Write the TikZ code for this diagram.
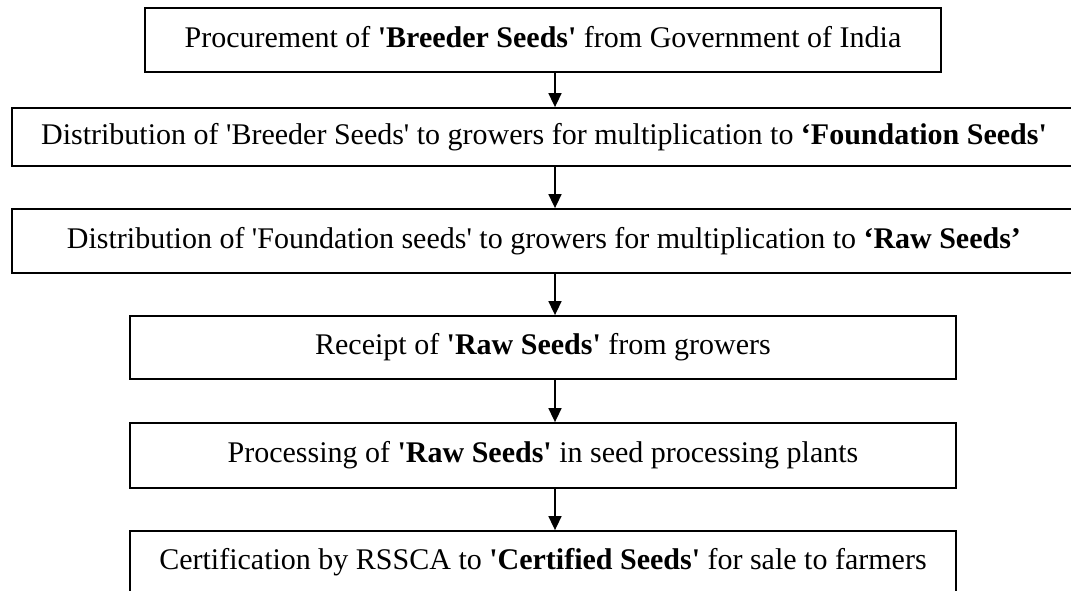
\documentclass[tikz,border=0pt]{standalone}
\usepackage{fontspec}
\setmainfont{Liberation Serif}
\usetikzlibrary{arrows.meta}
\newcommand\sq{\textquotesingle}
\begin{document}
\begin{tikzpicture}[x=1pt,y=-1pt,
  stepbox/.style={draw,line width=1.8pt,inner sep=0pt,text height=21pt,text depth=7pt,
    font=\fontsize{30}{36}\selectfont},
  arr/.style={line width=1.6pt,-{Triangle[width=13pt,length=14pt]}}]
\useasboundingbox (0,0) rectangle (1071,590);
\coordinate (ax) at (555,0);
\node[stepbox,minimum width=796pt,minimum height=64pt] (b1) at (543,40)
  {Procurement of \textbf{\sq Breeder Seeds\sq} from Government of India};
\node[stepbox,minimum width=1064pt,minimum height=58pt] (b2) at (544,137)
  {Distribution of \sq Breeder Seeds\sq{} to growers for multiplication to \textbf{‘Foundation Seeds\sq}};
\node[stepbox,minimum width=1064pt,minimum height=64pt] (b3) at (544,241)
  {Distribution of \sq Foundation seeds\sq{} to growers for multiplication to \textbf{‘Raw Seeds’}};
\node[stepbox,minimum width=826pt,minimum height=63pt] (b4) at (543,347.5)
  {Receipt of \textbf{\sq Raw Seeds\sq} from growers};
\node[stepbox,minimum width=826pt,minimum height=65pt] (b5) at (543,455.5)
  {Processing of \textbf{\sq Raw Seeds\sq} in seed processing plants};
\node[stepbox,minimum width=826pt,minimum height=63pt] (b6) at (543,562.5)
  {Certification by RSSCA to \textbf{\sq Certified Seeds\sq} for sale to farmers};
\draw[arr] (b1.south -| ax) -- (b2.north -| ax);
\draw[arr] (b2.south -| ax) -- (b3.north -| ax);
\draw[arr] (b3.south -| ax) -- (b4.north -| ax);
\draw[arr] (b4.south -| ax) -- (b5.north -| ax);
\draw[arr] (b5.south -| ax) -- (b6.north -| ax);
\end{tikzpicture}
\end{document}
